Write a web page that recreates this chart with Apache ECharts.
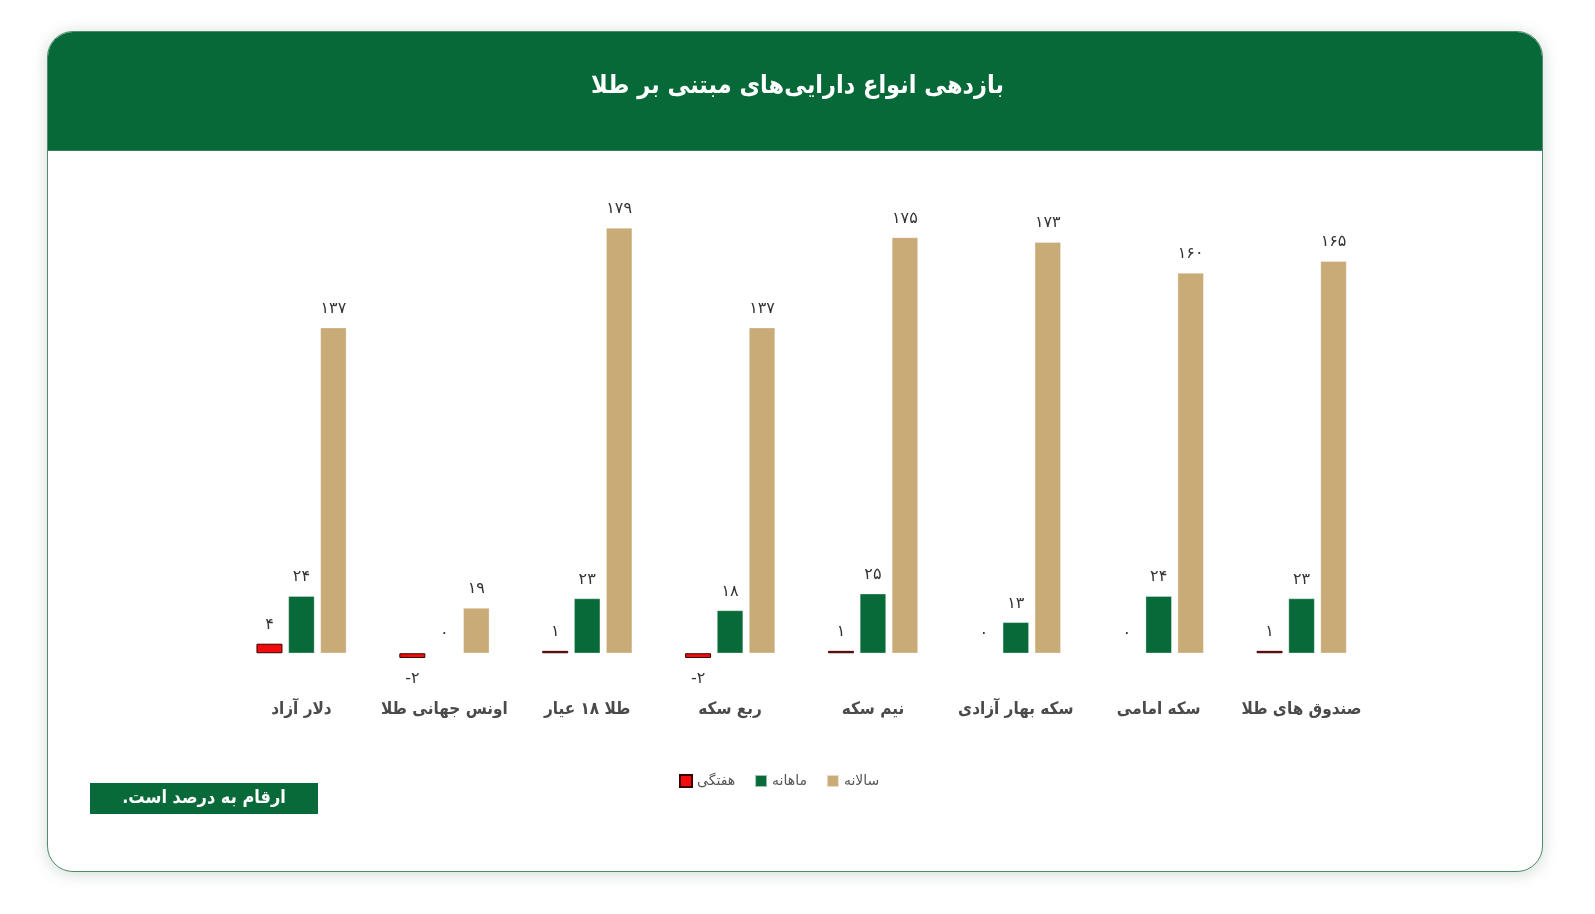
<!DOCTYPE html>
<html>
<head>
<meta charset="utf-8">
<script src="https://cdn.jsdelivr.net/npm/echarts@6/dist/echarts.min.js"></script>
<style>
  html, body { margin: 0; padding: 0; background: #ffffff; width: 1595px; height: 914px; overflow: hidden; }
  .card { position: absolute; left: 47px; top: 31px; width: 1494px; height: 839px; border-radius: 26px;
          background: #ffffff; border: 1.5px solid #4f8c6a; box-shadow: 0 2px 16px rgba(40,90,70,0.22); overflow: hidden; }
  .header { position: absolute; left: 0; top: 0; width: 100%; height: 118px; background: #076938; border-bottom: 1px solid #3c7a62; }
  #chart { position: absolute; left: 0; top: 0; width: 1595px; height: 914px; }
</style>
</head>
<body>
<div class="card"><div class="header"></div></div>
<div id="chart"></div>
<script>
const titleText = 'بازدهی انواع دارایی‌های مبتنی بر طلا';
const noteText = 'ارقام به درصد است.';
const categories = ['دلار آزاد', 'اونس جهانی طلا', 'طلا ۱۸ عیار', 'ربع سکه', 'نیم سکه', 'سکه بهار آزادی', 'سکه امامی', 'صندوق های طلا'];
const seriesNames = ['هفتگی', 'ماهانه', 'سالانه'];
const weekly = [4, -2, 1, -2, 1, 0, 0, 1];
const monthly = [24, 0, 23, 18, 25, 13, 24, 23];
const yearly = [137, 19, 179, 137, 175, 173, 160, 165];

const FONT = '"DejaVu Sans", "Noto Sans", sans-serif';
const FONT_C = '"DejaVu Sans Condensed", "DejaVu Sans", sans-serif';
const colors = ['#f20c0c', '#076a38', '#c9ab78'];

function fa(v) {
  return String(v).replace(/\d/g, d => '۰۱۲۳۴۵۶۷۸۹'[+d]);
}
function toData(arr) {
  return arr.map(v => {
    if (v < 0) return { value: v, label: { position: 'bottom', distance: 13 } };
    if (v === 0) return { value: v, itemStyle: { borderWidth: 0 } };
    return v;
  });
}

const chart = echarts.init(document.getElementById('chart'), null, { renderer: 'canvas' });
const labelCommon = {
  show: true, position: 'top', distance: 11, fontSize: 16, color: '#333333', fontFamily: FONT,
  formatter: p => fa(p.value)
};
const allData = [weekly, monthly, yearly];
chart.setOption({
  animation: false,
  backgroundColor: 'transparent',
  title: {
    text: titleText,
    left: 'center', top: 69,
    textStyle: { color: '#ffffff', fontSize: 25, fontWeight: 'bold', fontFamily: FONT_C }
  },
  legend: {
    data: seriesNames,
    left: 674, top: 769,
    itemWidth: 12, itemHeight: 12, itemGap: 19,
    icon: 'rect',
    textStyle: { fontSize: 14, color: '#555555', fontFamily: FONT }
  },
  grid: { left: 230, top: 178, width: 1143, height: 499, containLabel: false },
  xAxis: {
    type: 'category',
    data: categories,
    axisLine: { show: false, onZero: false },
    axisTick: { show: false },
    splitLine: { show: false },
    axisLabel: { interval: 0, margin: 24, fontSize: 17, fontWeight: 'bold', color: '#4a4a4a', fontFamily: FONT_C }
  },
  yAxis: {
    type: 'value', min: -10, max: 200, show: false,
    splitLine: { show: false }
  },
  series: seriesNames.map((name, i) => ({
    name: name,
    type: 'bar',
    barWidth: 26,
    barGap: '23%',
    data: toData(allData[i]),
    itemStyle: i === 0 ? { color: colors[0], borderColor: '#3a0000', borderWidth: 1 }
                       : { color: colors[i], borderColor: 'rgba(255,255,255,0.6)', borderWidth: 0.5 },
    label: labelCommon
  })),
  graphic: [
    {
      type: 'rect', left: 90, top: 783,
      shape: { width: 228, height: 31 },
      style: { fill: '#076a38' }
    },
    {
      type: 'text', x: 204, y: 798,
      style: { text: noteText + '\u200F', fill: '#ffffff', fontSize: 18, fontWeight: 'bold', fontFamily: FONT_C,
               align: 'center', verticalAlign: 'middle' }
    }
  ]
});
</script>
</body>
</html>
